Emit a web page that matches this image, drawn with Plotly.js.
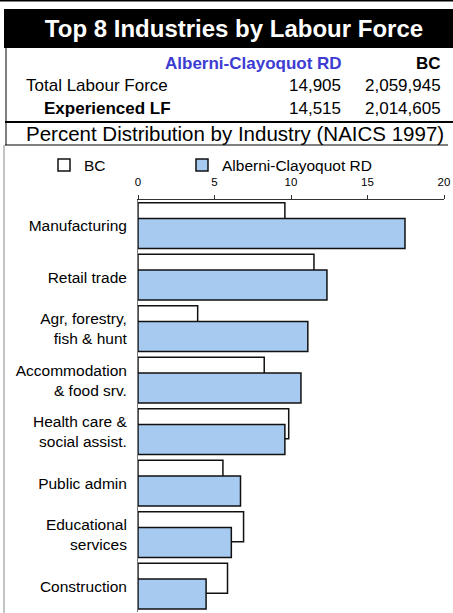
<!DOCTYPE html>
<html><head><meta charset="utf-8">
<script src="https://cdn.plot.ly/plotly-3.0.1.min.js"></script>
<style>html,body{margin:0;padding:0;background:#fff;}#chart{width:453px;height:613px;}</style>
</head><body><div id="chart"></div>
<script>
// ---- data ----
const categories = ['Manufacturing', 'Retail trade', 'Agr, forestry,<br>fish & hunt', 'Accommodation<br>& food srv.', 'Health care &<br>social assist.', 'Public admin', 'Educational<br>services', 'Construction'];
const bcShare = [9.6, 11.5, 3.9, 8.25, 9.85, 5.55, 6.9, 5.85];
const regionShare = [17.45, 12.35, 11.1, 10.65, 9.6, 6.7, 6.1, 4.45];
const seriesNames = ['BC', 'Alberni-Clayoquot RD'];
const xTickValues = [0, 5, 10, 15, 20];
const rowLabels = ['Total Labour Force', 'Experienced LF'];
const regionCounts = ['14,905', '14,515'];
const bcCounts = ['2,059,945', '2,014,605'];
const chartTitle = 'Top 8 Industries by Labour Force';
const subTitle = 'Percent Distribution by Industry (NAICS 1997)';

// ---- geometry helpers ----
const W = 453, H = 613, M = {l: 138, r: 9, t: 200, b: 1};
const PW = W - M.l - M.r, PH = H - M.t - M.b;
const px = x => (x - M.l) / PW;
const py = y => (H - M.b - y) / PH;
const FONT = 'Liberation Sans, Arial, sans-serif';

const traces = [
  {type: 'bar', orientation: 'h', name: seriesNames[0], y: categories, x: bcShare,
   width: 0.5825, offset: -0.4456, legend: 'legend',
   marker: {color: '#ffffff', line: {color: '#111', width: 1.5}}, hoverinfo: 'skip'},
  {type: 'bar', orientation: 'h', name: seriesNames[1], y: categories, x: regionShare,
   width: 0.5825, offset: -0.1427, legend: 'legend2',
   marker: {color: '#A6CAF0', line: {color: '#111', width: 1.5}}, hoverinfo: 'skip'}
];

function hline(y, x0, x1, w, c) {
  return {type: 'line', xref: 'paper', yref: 'paper', x0: px(x0), x1: px(x1), y0: py(y), y1: py(y), line: {color: c, width: w}};
}
function vline(x, y0, y1, w, c) {
  return {type: 'line', xref: 'paper', yref: 'paper', x0: px(x), x1: px(x), y0: py(y0), y1: py(y1), line: {color: c, width: w}};
}
const shapes = [
  hline(0.75, 0, 453, 1.5, '#000'),
  {type: 'rect', xref: 'paper', yref: 'paper', x0: px(4), x1: px(453), y0: py(9), y1: py(48), fillcolor: '#000', line: {width: 0}},
  vline(6, 48, 145, 1, '#000'),
  hline(122, 5, 453, 2, '#000'),
  hline(145, 5, 448, 1, '#000'),
  vline(4, 145, 613, 1, '#888')
];

function ann(text, x, y, anchor, size, color) {
  return {text: text, xref: 'paper', yref: 'paper', x: px(x), y: py(y), xanchor: anchor, yanchor: 'middle',
    showarrow: false, borderpad: 0, borderwidth: 0, font: {family: FONT, size: size, color: color || '#000'}};
}
const annotations = [
  ann('<b>' + seriesNames[1] + '</b>', 342, 63, 'right', 17, '#3C3CD2'),
  ann('<b>' + seriesNames[0] + '</b>', 441, 63, 'right', 17),
  ann(rowLabels[0], 26, 86, 'left', 17),
  ann(regionCounts[0], 341, 86, 'right', 17),
  ann(bcCounts[0], 441, 86, 'right', 17),
  ann('<b>' + rowLabels[1] + '</b>', 44, 108, 'left', 17),
  ann(regionCounts[1], 341, 108, 'right', 17),
  ann(bcCounts[1], 441, 108, 'right', 17),
  ann(subTitle, 235, 133.5, 'center', 20.5)
];

function legendAt(x) {
  return {orientation: 'h', x: px(x), xanchor: 'left', y: py(165.5), yanchor: 'middle',
    bgcolor: 'rgba(0,0,0,0)', font: {family: FONT, size: 15.5, color: '#000'}};
}

const layout = {
  width: W, height: H,
  margin: M,
  paper_bgcolor: '#fff', plot_bgcolor: '#fff',
  barmode: 'overlay',
  title: {text: chartTitle, font: {family: FONT, size: 24, color: '#fff', weight: 'bold'},
    xref: 'container', yref: 'container', x: 234 / W, xanchor: 'center', y: 1 - 28.5 / H, yanchor: 'middle'},
  xaxis: {side: 'top', range: [0, 20], tickvals: xTickValues, ticktext: xTickValues.map(String),
    ticks: 'outside', ticklen: 4, tickcolor: '#333', showline: true, linecolor: '#333', linewidth: 1,
    showgrid: false, zeroline: false, ticklabelstandoff: 4,
    tickfont: {family: FONT, size: 11.5, color: '#000'}, fixedrange: true},
  yaxis: {type: 'category', range: [7.5, -0.5], showline: true, linecolor: '#777', linewidth: 1,
    ticks: '', showgrid: false, zeroline: false, ticklabelstandoff: 7,
    tickfont: {family: FONT, size: 15.5, color: '#000'}, fixedrange: true},
  showlegend: true,
  legend: legendAt(44),
  legend2: legendAt(182),
  shapes: shapes,
  annotations: annotations
};

Plotly.newPlot('chart', traces, layout, {displayModeBar: false, staticPlot: true});
</script>
</body></html>
